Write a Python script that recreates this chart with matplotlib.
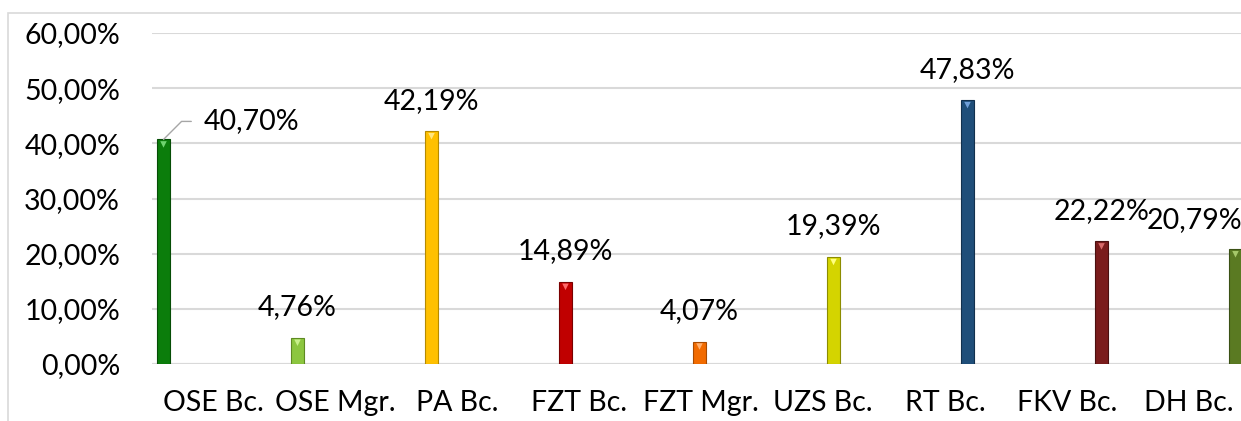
import matplotlib.pyplot as plt
import matplotlib.patches as patches
import numpy as np

# === DATA ===
categories = ["OSE Bc.", "OSE Mgr.", "PA Bc.", "FZT Bc.", "FZT Mgr.",
              "UZS Bc.", "RT Bc.", "FKV Bc.", "DH Bc."]
values = [40.70, 4.76, 42.19, 14.89, 4.07, 19.39, 47.83, 22.22, 20.79]
bar_colors = ["#0B7D0B", "#8CC63F", "#FFC000", "#C00000", "#F26B00",
              "#D4D400", "#1F4E79", "#7A1C1C", "#5A7A22"]
edge_colors = ["#064D06", "#5E8A22", "#B58A00", "#7A0000", "#A84A00",
               "#8C8C00", "#12304D", "#4A1010", "#3A5015"]
tip_colors = ["#6FD36F", "#C8F08A", "#FFE680", "#FF6A6A", "#FFB070",
              "#FFFF80", "#6F9FD8", "#D86A6A", "#A6C86A"]
y_ticks = [0, 10, 20, 30, 40, 50, 60]

FONT = "Lato"
FS = 20.5
W, H = 1241, 421


def fmt(v):
    return f"{v:.2f}".replace(".", ",") + "%"


def main():
    fig = plt.figure(figsize=(W / 100, H / 100), dpi=100)
    fig.patch.set_facecolor("white")

    # chart frame (runs past the crop on the right/bottom)
    frame = patches.Rectangle((8 / W, -0.1), 1.2, 1 - 13 / H + 0.1,
                              transform=fig.transFigure, fill=False,
                              edgecolor="#D9D9D9", linewidth=1.2)
    fig.patches.append(frame)

    # plot area: 152..1358 px horizontally, 0% at y=364, 60% at y=33
    ax = fig.add_axes([152 / W, (H - 364) / H, 1206 / W, 331 / H])
    ax.set_facecolor("none")

    n = len(categories)
    x = np.arange(n)
    slot = 134.0  # px per category
    offset = -0.5 + 11.5 / slot
    width = 13 / slot
    ax.bar(x + offset, values, width=width, color=bar_colors,
           edgecolor=edge_colors, linewidth=0.8, zorder=3)
    ax.scatter(x + offset, np.array(values) - 0.9, marker="v", s=22,
               c=tip_colors, linewidths=0, zorder=4)

    ax.set_xlim(-0.5, n - 0.5)
    ax.set_ylim(0, 60)
    ax.set_yticks(y_ticks)
    ax.set_yticklabels([fmt(t) for t in y_ticks], fontsize=FS, family=FONT)
    ax.yaxis.grid(True, color="#D9D9D9", linewidth=1.5, zorder=0)
    ax.set_axisbelow(True)
    ax.tick_params(axis="y", length=0, pad=23)

    # category labels sit on a tighter pitch than the bars
    label_pos = (213 - 152) / slot - 0.5 + x * (122 / slot)
    ax.set_xticks(label_pos)
    ax.set_xticklabels(categories, fontsize=FS, family=FONT)
    ax.tick_params(axis="x", length=0, pad=19)
    for s in ax.spines.values():
        s.set_visible(False)
    ax.axhline(0, color="#D9D9D9", linewidth=1.5, zorder=1)

    # data labels
    for i, v in enumerate(values):
        bx = x[i] + offset
        if i == 0:
            ax.annotate(fmt(v), xy=(bx, v), xytext=(29, 13),
                        textcoords="offset points", fontsize=FS, family=FONT,
                        ha="left", va="center",
                        arrowprops=dict(arrowstyle="-", color="#A6A6A6",
                                        linewidth=1, relpos=(0, 0.5),
                                        connectionstyle="angle,angleA=0,angleB=45,rad=0",
                                        shrinkA=7, shrinkB=0))
        elif i == n - 1:
            ax.annotate(fmt(v), xy=(bx, v), xytext=(-29.5, 21),
                        textcoords="offset points", fontsize=FS, family=FONT,
                        ha="center", va="center")
        else:
            ax.annotate(fmt(v), xy=(bx, v), xytext=(0, 22),
                        textcoords="offset points", fontsize=FS, family=FONT,
                        ha="center", va="center")

    plt.savefig("out.png", dpi=100, facecolor="white")


if __name__ == "__main__":
    main()
